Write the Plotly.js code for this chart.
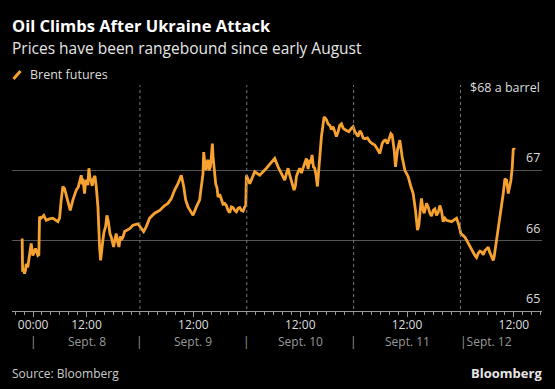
<!DOCTYPE html>
<html>
<head>
<meta charset="utf-8">
<script src="https://cdn.plot.ly/plotly-3.0.1.min.js"></script>
<style>
html,body{margin:0;padding:0;background:#000;}
#chart{width:555px;height:389px;}
</style>
</head>
<body>
<div id="chart"></div>
<script>
// Hours elapsed since Sept. 8 00:00
const hoursFromSept8 = [
  -2.45,-2.35,-2.15,-1.92,-1.7,-1.55,-1.2,-0.80,-0.42,-0.05,0.55,1.08,1.30,1.45,1.83,2.4,2.95,3.7,4.45,5.57,
  5.95,6.32,6.70,7.07,7.82,8.35,8.95,9.70,10.15,10.45,10.82,11.05,11.19,11.57,11.79,12.09,12.32,12.54,12.77,13.07,
  13.29,13.59,13.89,14.19,14.57,14.94,15.17,15.69,15.92,16.29,16.59,16.89,17.04,17.27,17.57,17.79,18.09,18.39,18.69,18.99,
  19.29,19.59,19.81,20.19,20.56,21.69,22.44,23.56,24.31,24.83,25.43,26.18,27.31,28.43,29.55,30.30,31.05,31.80,32.55,33.30,
  33.83,34.28,34.80,35.55,35.93,36.68,37.42,37.65,38.02,38.17,38.32,38.55,38.77,39.0,39.30,39.52,39.82,40.05,40.27,40.42,
  40.65,40.8,41.02,41.32,41.55,41.92,42.30,42.67,43.04,43.42,43.79,44.17,44.54,44.92,45.29,45.67,46.04,46.42,46.79,47.17,
  47.54,47.77,47.92,48.67,49.79,50.91,52.41,53.54,54.28,55.03,55.78,56.15,56.53,56.9,57.28,57.65,58.03,58.33,58.63,58.93,
  59.15,59.53,59.90,60.28,60.65,61.02,61.40,61.77,62.15,62.37,62.67,62.97,63.27,63.57,63.87,64.1,64.40,64.77,65.37,65.90,
  66.27,66.65,67.02,67.39,67.77,68.14,68.52,68.89,69.27,69.64,70.02,70.39,70.92,71.52,71.89,72.27,72.64,73.01,73.39,73.76,
  74.14,74.51,75.11,75.64,76.16,76.76,77.36,77.89,78.11,78.41,78.79,79.16,79.61,80.13,80.36,80.66,81.11,81.41,81.86,82.38,
  82.91,83.51,84.26,84.86,85.38,85.90,86.13,86.35,86.65,86.88,87.1,87.25,87.55,87.85,88.15,88.38,88.75,89.13,89.5,89.88,
  90.25,90.63,91.0,91.37,91.75,92.12,92.5,92.87,94.00,95.12,95.65,96.10,97.00,97.75,98.50,99.24,99.62,99.99,100.37,100.74,
  101.12,101.49,101.87,102.24,102.54,102.84,103.07,103.37,103.59,103.89,104.49,105.09,105.61,105.99,106.37,106.74,107.34,107.64,107.86,108.24
];
// Brent futures price, $ a barrel
const brent = [
  66.03,65.56,65.60,65.53,65.58,65.67,65.62,65.77,65.96,65.79,65.89,65.79,65.80,66.34,66.32,66.36,66.29,66.31,66.32,66.27,
  66.32,66.58,66.77,66.74,66.58,66.43,66.58,66.72,66.76,66.86,66.93,66.80,66.88,66.67,66.84,66.86,66.79,67.03,66.90,66.84,
  66.78,66.88,66.92,66.77,66.48,65.91,65.72,66.01,66.12,66.20,66.36,66.28,66.20,66.10,66.05,66.00,65.91,66.02,66.10,65.98,
  65.91,66.06,66.01,66.05,66.13,66.17,66.22,66.24,66.17,66.13,66.20,66.32,66.39,66.43,66.50,66.53,66.60,66.72,66.81,66.93,
  66.77,66.58,66.48,66.41,66.36,66.48,66.58,66.70,66.86,66.95,67.26,67.15,67.00,67.10,67.15,67.00,67.05,67.20,67.38,67.20,
  67.05,66.95,66.81,66.75,66.62,66.66,66.58,66.52,66.53,66.50,66.43,66.40,66.48,66.47,66.43,66.41,66.46,66.47,66.43,66.42,
  66.48,66.50,66.93,66.81,66.98,66.93,67.03,67.12,67.17,67.05,66.96,66.92,66.86,66.95,67.03,66.93,66.86,66.80,66.72,66.78,
  66.91,66.98,67.03,66.96,67.05,67.10,67.17,67.02,67.15,67.10,67.22,67.05,67.03,66.93,66.77,66.95,67.15,67.48,67.76,67.72,
  67.66,67.64,67.58,67.62,67.55,67.48,67.55,67.64,67.66,67.60,67.58,67.57,67.55,67.60,67.62,67.55,67.52,67.48,67.56,67.53,
  67.46,67.45,67.46,67.41,67.38,67.36,67.30,67.24,67.30,67.38,67.42,67.43,67.38,67.48,67.52,67.50,67.29,67.05,67.29,67.43,
  67.19,67.00,66.91,66.77,66.67,66.43,66.30,66.15,66.22,66.43,66.52,66.60,66.45,66.39,66.45,66.53,66.48,66.39,66.35,66.43,
  66.45,66.36,66.40,66.50,66.42,66.27,66.32,66.29,66.27,66.32,66.22,66.10,66.05,65.96,65.86,65.79,65.76,65.82,65.85,65.84,
  65.80,65.86,65.88,65.91,65.84,65.79,65.76,65.72,65.78,65.91,66.15,66.39,66.67,66.88,66.86,66.67,66.86,67.05,67.31,67.29
];
const tickTimes = ['2025-09-08 00:00','2025-09-08 12:00','2025-09-09 12:00','2025-09-10 12:00','2025-09-11 12:00','2025-09-12 12:00'];
const tickLabels = ['00:00','12:00','12:00','12:00','12:00','12:00'];
const dayLabels = ['Sept. 8','Sept. 9','Sept. 10','Sept. 11'];
const dayLabelTimes = ['2025-09-08 12:00','2025-09-09 12:00','2025-09-10 12:00','2025-09-11 12:00'];
const dayBreaks = ['2025-09-09 00:00','2025-09-10 00:00','2025-09-11 00:00','2025-09-12 00:00'];
const lastDayLabel = 'Sept. 12';
const priceLevels = [65, 66, 67];
const topLevel = 68;
const topLabel = '$68 a barrel';

function fmt(h){
  const d = new Date(Date.UTC(2025,8,8) + h*3600e3);
  const p = n => String(n).padStart(2,'0');
  return d.getUTCFullYear()+'-'+p(d.getUTCMonth()+1)+'-'+p(d.getUTCDate())+' '+p(d.getUTCHours())+':'+p(d.getUTCMinutes())+':'+p(d.getUTCSeconds());
}
const xs = hoursFromSept8.map(fmt);
const FONT = 'Open Sans, Noto Sans, sans-serif';
const ORANGE = '#f7a230';
const PW = 530, PH = 211, PL = 12, PT = 100; // plot area in px
const px = v => (v - PL) / PW;          // page x px -> paper x
const py = v => (PT + PH - v) / PH;      // page y px -> paper y

const annotations = [];
// second row of x labels
['2025-09-08 00:00'].concat(dayBreaks.slice(0,3)).forEach(t => {
  annotations.push({x:t, xref:'x', y:py(341), yref:'paper', yanchor:'middle', xanchor:'center',
    text:'|', showarrow:false, font:{family:FONT, size:12, color:'#999'}});
});
dayLabels.forEach((s,i) => {
  annotations.push({x:dayLabelTimes[i], xref:'x', y:py(341), yref:'paper', yanchor:'middle', xanchor:'center',
    text:s, showarrow:false, font:{family:FONT, size:12, color:'#999'}});
});
annotations.push({x:dayBreaks[3], xref:'x', y:py(341), yref:'paper', xshift:-2, yanchor:'middle', xanchor:'left',
  text:'|'+lastDayLabel, showarrow:false, font:{family:FONT, size:12, color:'#999'}});
// right-side price labels
priceLevels.forEach(v => {
  annotations.push({x:1, xref:'paper', y:v, yref:'y', xanchor:'right', yanchor:'bottom', yshift:2,
    text:String(v), showarrow:false, font:{family:FONT, size:12.5, color:'#ddd'}});
});
annotations.push({x:1, xref:'paper', y:topLevel, yref:'y', xanchor:'right', yanchor:'bottom', yshift:2,
  text:topLabel, showarrow:false, font:{family:FONT, size:12.5, color:'#ddd'}});
// subtitle, legend, source
annotations.push({x:px(10), xref:'paper', y:py(48), yref:'paper', xanchor:'left', yanchor:'middle', showarrow:false,
  text:'Prices have been rangebound since early August', font:{family:FONT, size:15.5, color:'#e6e6e6'}});
annotations.push({x:px(28), xref:'paper', y:py(74), yref:'paper', xanchor:'left', yanchor:'middle', showarrow:false,
  text:'Brent futures', font:{family:FONT, size:12.5, color:'#ddd'}});
annotations.push({x:px(10), xref:'paper', y:py(373), yref:'paper', xanchor:'left', yanchor:'middle', showarrow:false,
  text:'Source: Bloomberg', font:{family:FONT, size:12, color:'#ccc'}});
annotations.push({x:px(544), xref:'paper', y:py(373), yref:'paper', xanchor:'right', yanchor:'middle', showarrow:false,
  text:'<b>Bloomberg</b>', font:{family:FONT, size:13, color:'#e6e6e6'}});

const shapes = dayBreaks.map(t => ({type:'line', xref:'x', yref:'paper', x0:t, x1:t, y0:py(315), y1:py(85),
  line:{color:'#777', width:1, dash:'3px,3px'}}));
shapes.push({type:'line', xref:'paper', yref:'paper', x0:px(13.5), x1:px(20.5), y0:py(79), y1:py(71),
  line:{color:ORANGE, width:3}});

const trace = {x:xs, y:brent, type:'scatter', mode:'lines', line:{color:ORANGE, width:2.8}, showlegend:false, hoverinfo:'skip'};

const layout = {
  width:555, height:389,
  paper_bgcolor:'#000', plot_bgcolor:'#000',
  margin:{l:PL, r:555-PL-PW, t:PT, b:389-PT-PH, pad:0},
  showlegend:false,
  title:{text:'<b>Oil Climbs After Ukraine Attack</b>', font:{family:FONT, size:16.5, color:'#fff'},
    x:12/555, xanchor:'left', xref:'container', y:1-26/389, yanchor:'middle', yref:'container'},
  xaxis:{type:'date', range:['2025-09-07 19:16','2025-09-12 18:19'], showgrid:false, zeroline:false,
    showline:true, linecolor:'#999', linewidth:1,
    tickmode:'array', tickvals:tickTimes, ticktext:tickLabels, ticks:'outside', ticklen:5, tickcolor:'#999',
    ticklabelstandoff:-2,
    tickfont:{family:FONT, size:12, color:'#ddd'},
    minor:{dtick:2*3600e3, tick0:'2025-09-08 00:00', ticks:'outside', ticklen:3, tickcolor:'#999', showgrid:false},
    fixedrange:true},
  yaxis:{range:[65,68], tickmode:'array', tickvals:[66,67,68], showticklabels:false, ticks:'',
    showgrid:true, gridcolor:'#555', gridwidth:1, zeroline:false, showline:false, fixedrange:true},
  annotations:annotations,
  shapes:shapes
};
Plotly.newPlot('chart', [trace], layout, {displayModeBar:false, staticPlot:true});
</script>
</body>
</html>
